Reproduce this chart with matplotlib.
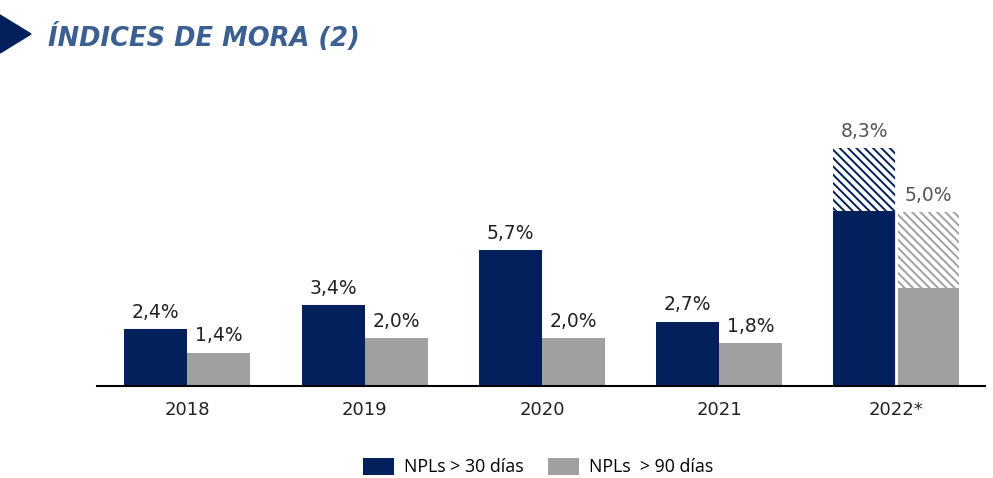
import matplotlib
matplotlib.use("Agg")
import matplotlib.pyplot as plt
from matplotlib.patches import Patch, Polygon
import numpy as np

years = ["2018", "2019", "2020", "2021", "2022*"]
npl30 = [2.4, 3.4, 5.7, 2.7, 7.35]
npl90 = [1.4, 2.0, 2.0, 1.8, 4.1]
npl30_proj = 10.0   # hatched top of 2022 bar (as drawn)
npl90_proj = 7.3
lab30 = ["2,4%", "3,4%", "5,7%", "2,7%", "8,3%"]
lab90 = ["1,4%", "2,0%", "2,0%", "1,8%", "5,0%"]

navy = "#03205C"
grey = "#A0A0A0"

plt.rcParams['hatch.linewidth'] = 1.4
fig = plt.figure(figsize=(9.93, 4.78), dpi=100)
ax = fig.add_axes([97/993, 92/478, 888/993, 286/478])

x = np.arange(len(years))
w = 0.356

# projected (hatched) parts for 2022
ax.bar(x[-1] - w/2, npl30_proj, w, color="white", edgecolor=navy, hatch="\\\\\\\\", linewidth=0)
ax.bar(x[-1] + w/2, npl90_proj, w, color="white", edgecolor=grey, hatch="\\\\\\\\", linewidth=0)

ax.bar(x - w/2, npl30, w, color=navy, linewidth=0)
ax.bar(x + w/2, npl90, w, color=grey, linewidth=0)
# white gap between the 2022 bars
ax.axvline(x[-1], ymin=0, ymax=npl30_proj/12, color="white", lw=2)

tops30 = npl30[:-1] + [npl30_proj]
tops90 = npl90[:-1] + [npl90_proj]
for i in range(len(years)):
    c = "#555555" if i == len(years) - 1 else "#222222"
    ax.text(x[i] - w/2, tops30[i] + 0.3, lab30[i], ha="center", va="bottom", fontsize=13.5, color=c)
    ax.text(x[i] + w/2, tops90[i] + 0.3, lab90[i], ha="center", va="bottom", fontsize=13.5, color=c)

ax.set_xlim(-0.51, 4.5)
ax.set_ylim(0, 12)
ax.set_xticks(x)
ax.set_xticklabels(years, fontsize=13, color="#222222")
ax.tick_params(axis="x", length=0, pad=11)
ax.set_yticks([])
for s in ["top", "right", "left"]:
    ax.spines[s].set_visible(False)
ax.spines["bottom"].set_linewidth(1.5)

handles = [Patch(facecolor=navy, label="NPLs > 30 días"),
           Patch(facecolor=grey, label="NPLs  > 90 días")]
fig.legend(handles=handles, loc="center", bbox_to_anchor=(538/993, 1 - 467/478), ncol=2,
           frameon=False, handlelength=1.75, handleheight=1.15,
           columnspacing=1.4, handletextpad=0.55, prop={"family": "Open Sans", "size": 12.8})

# title with arrow marker
fig.patches.append(Polygon([[0, 1 - 15/478], [31/993, 1 - 34/478], [0, 1 - 53/478]],
                           closed=True, transform=fig.transFigure, color=navy))
fig.text(48/993, 1 - 37/478, "ÍNDICES DE MORA (2)", fontsize=18.5, fontweight="bold",
         fontstyle="italic", color="#3A5F90", va="center", ha="left")

fig.savefig("out.png", dpi=100)
